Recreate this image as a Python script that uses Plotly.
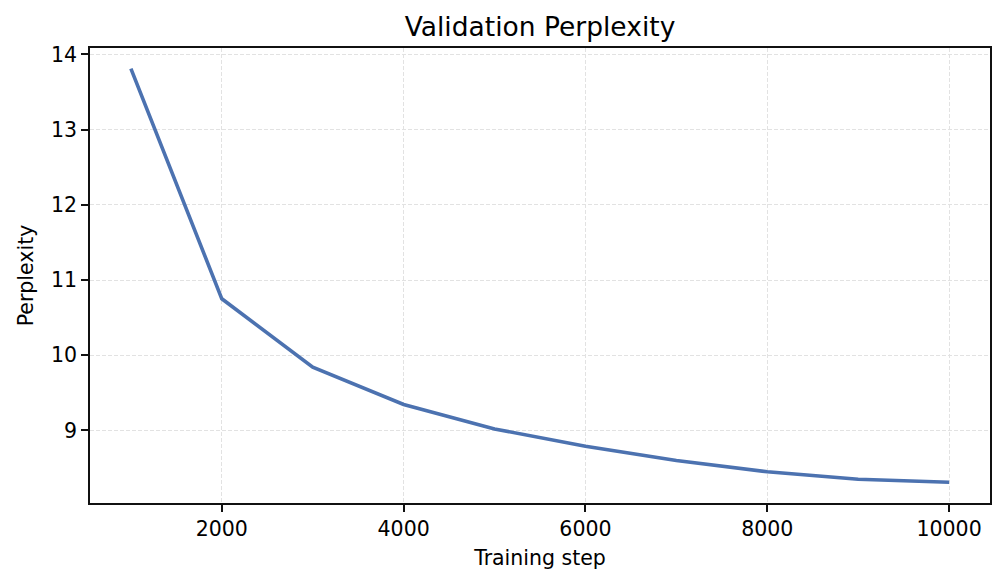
import plotly.graph_objects as go

# Data
steps = [1000, 2000, 3000, 4000, 5000, 6000, 7000, 8000, 9000, 10000]
perplexity = [13.81, 10.75, 9.84, 9.345, 9.02, 8.79, 8.60, 8.45, 8.35, 8.31]

x_ticks = [2000, 4000, 6000, 8000, 10000]
y_ticks = [9, 10, 11, 12, 13, 14]

fig = go.Figure()
fig.add_trace(go.Scatter(
    x=steps, y=perplexity,
    mode="lines",
    line=dict(color="#4c72b0", width=3.6),
    showlegend=False,
))

axis_style = dict(
    showline=True, mirror=True, linecolor="#111111", linewidth=1.7,
    ticks="outside", ticklen=7, tickwidth=1.7, tickcolor="#111111",
    showgrid=True, gridcolor="#e2e2e2", griddash="4px,2px", gridwidth=1,
    zeroline=False,
    tickfont=dict(size=20.5, color="black"),
)

# matplotlib-like 5% margins around the data
x_pad = (max(steps) - min(steps)) * 0.05
y_pad = (max(perplexity) - min(perplexity)) * 0.05

fig.update_xaxes(
    range=[min(steps) - x_pad, max(steps) + x_pad],
    tickvals=x_ticks, tickformat="d",
    title=dict(text="Training step", font=dict(size=20.5, color="black"), standoff=10),
    **axis_style,
)
fig.update_yaxes(
    range=[min(perplexity) - y_pad, max(perplexity) + y_pad],
    tickvals=y_ticks,
    title=dict(text="Perplexity", font=dict(size=20.5, color="black"), standoff=12),
    **axis_style,
)

# the page adds an 8px body margin, so the figure is shrunk by that much
fig.update_layout(
    width=997, height=576,
    margin=dict(l=82, r=15, t=40, b=81),
    title=dict(text="Validation Perplexity", x=(82 + 982) / 2 / 997, xanchor="center",
               y=1 - 19 / 576, yanchor="middle", font=dict(size=26.5, color="black")),
    font=dict(family="DejaVu Sans", color="black"),
    plot_bgcolor="white",
    paper_bgcolor="white",
)

fig.write_html("out.html")
